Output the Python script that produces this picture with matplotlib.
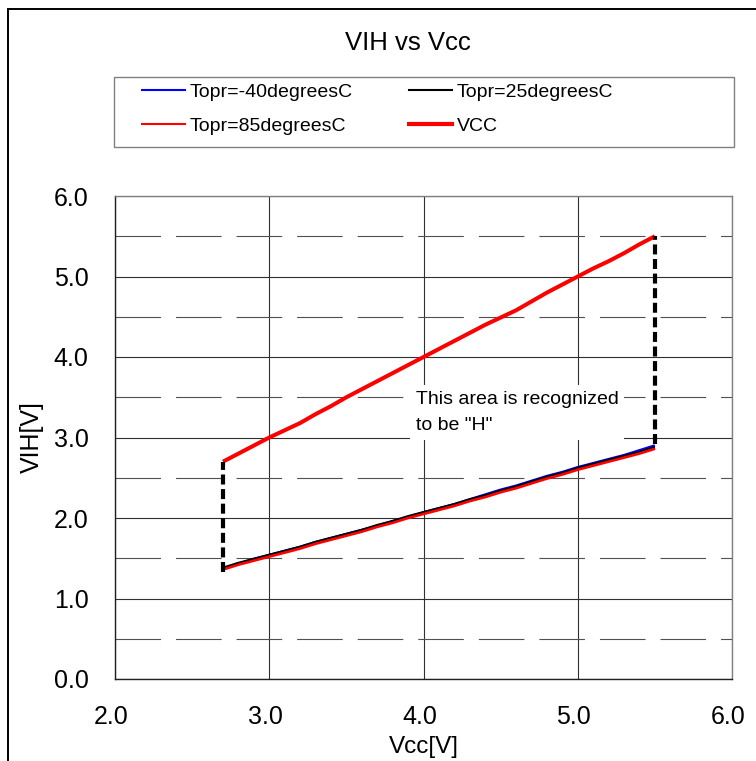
import matplotlib
matplotlib.use("Agg")
import matplotlib.pyplot as plt
from matplotlib.patches import Rectangle
from matplotlib.lines import Line2D
from matplotlib.transforms import ScaledTranslation

plt.rcParams['font.family'] = ['Liberation Sans', 'DejaVu Sans']

# ---- data ----
vcc = [2.7, 2.8, 2.9, 3.0, 3.1, 3.2, 3.3, 3.4, 3.5, 3.6, 3.7, 3.8, 3.9, 4.0,
       4.1, 4.2, 4.3, 4.4, 4.5, 4.6, 4.7, 4.8, 4.9, 5.0, 5.1, 5.2, 5.3, 5.4, 5.5]
vih_m40 = [1.37, 1.43, 1.49, 1.54, 1.59, 1.64, 1.70, 1.75, 1.80, 1.85, 1.90, 1.96, 2.01, 2.07,
           2.12, 2.17, 2.23, 2.29, 2.35, 2.40, 2.46, 2.52, 2.57, 2.63, 2.68, 2.73, 2.78, 2.84, 2.90]
vih_25 = [1.38, 1.44, 1.49, 1.54, 1.59, 1.64, 1.70, 1.75, 1.80, 1.85, 1.91, 1.96, 2.02, 2.07,
          2.12, 2.17, 2.23, 2.28, 2.34, 2.39, 2.45, 2.51, 2.56, 2.62, 2.67, 2.72, 2.77, 2.82, 2.88]
vih_85 = [1.36, 1.42, 1.47, 1.52, 1.57, 1.62, 1.68, 1.73, 1.78, 1.83, 1.89, 1.94, 2.00, 2.05,
          2.10, 2.15, 2.21, 2.26, 2.32, 2.37, 2.43, 2.49, 2.54, 2.60, 2.65, 2.70, 2.75, 2.80, 2.86]
vcc_line = [2.70, 2.80, 2.90, 3.00, 3.09, 3.18, 3.29, 3.39, 3.50, 3.60, 3.70, 3.80, 3.90, 4.00,
            4.10, 4.20, 4.30, 4.40, 4.49, 4.58, 4.69, 4.80, 4.90, 5.00, 5.10, 5.19, 5.29, 5.40, 5.50]
range_x = [2.7, 5.5]
range_low = [1.33, 2.92]
range_high = [2.70, 5.50]

series_labels = ["Topr=-40degreesC", "Topr=25degreesC", "Topr=85degreesC", "VCC"]
xticks = [2.0, 3.0, 4.0, 5.0, 6.0]
yticks = [0.0, 1.0, 2.0, 3.0, 4.0, 5.0, 6.0]
yticks_minor = [0.5, 1.5, 2.5, 3.5, 4.5, 5.5]

W, H = 756, 761
fig = plt.figure(figsize=(W / 100, H / 100), dpi=100)
fig.patch.set_facecolor('white')

# figure frame (cropped at right and bottom)
fig.patches.append(Rectangle((8 / W, -0.1), 1.2, (1 - 9 / H) + 0.1, transform=fig.transFigure,
                             fill=False, edgecolor='black', linewidth=1.4))
# legend frame
fig.patches.append(Rectangle((114 / W, 1 - 147 / H), (734 - 114) / W, (147 - 77) / H,
                             transform=fig.transFigure, fill=False, edgecolor='#808080',
                             linewidth=1.0))

ax = fig.add_axes([115 / W, 1 - 679 / H, (732 - 115) / W, (679 - 196) / H])
ax.set_xlim(2.0, 6.0)
ax.set_ylim(0.0, 6.0)
ax.set_xticks(xticks)
ax.set_yticks(yticks)
ax.set_yticks(yticks_minor, minor=True)
ax.set_xticklabels([f"{v:.1f}" for v in xticks])
ax.set_yticklabels([f"{v:.1f}" for v in yticks])
ax.tick_params(axis='both', which='both', length=0, labelsize=18, labelcolor='black')
ax.tick_params(axis='x', pad=19)
ax.tick_params(axis='y', pad=19)
shift = ScaledTranslation(-4 / 100, 0, fig.dpi_scale_trans)
for lab in ax.get_xticklabels():
    lab.set_transform(lab.get_transform() + shift)

ax.set_axisbelow(True)
ax.xaxis.grid(True, which='major', color='#303030', linewidth=0.8)
ax.yaxis.grid(True, which='major', color='#303030', linewidth=0.8)
ax.yaxis.grid(True, which='minor', color='#505050', linewidth=0.8, linestyle=(0, (41, 13.5)))

for s in ['left', 'bottom']:
    ax.spines[s].set_color('#202020')
    ax.spines[s].set_linewidth(1.0)
for s in ['top', 'right']:
    ax.spines[s].set_color('#808080')
    ax.spines[s].set_linewidth(1.0)

ax.plot(vcc, vih_m40, color='#0000ff', linewidth=1.9, solid_capstyle='butt', zorder=3)
ax.plot(vcc, vih_25, color='black', linewidth=1.9, solid_capstyle='butt', zorder=3)
ax.plot(vcc, vih_85, color='#ff0000', linewidth=1.9, solid_capstyle='butt', zorder=3)
ax.plot(vcc, vcc_line, color='#ff0000', linewidth=2.9, solid_capstyle='butt', zorder=3)

for x, lo, hi in zip(range_x, range_low, range_high):
    ax.plot([x, x], [lo, hi], color='black', linewidth=3.0, linestyle=(0, (2.4, 1.1)),
            solid_capstyle='butt', zorder=4)

ax.text(3.95, 3.31, 'This area is recognized\nto be "H"', fontsize=14, ha='left', va='center',
        linespacing=1.75, zorder=5,
        bbox=dict(facecolor='white', edgecolor='none', boxstyle='square,pad=0.3'))

ax.set_xlabel('Vcc[V]', fontsize=17.5, labelpad=5)
ax.set_ylabel('VIH[V]', fontsize=18, labelpad=7)

fig.text(408 / W, 1 - 43 / H, 'VIH vs Vcc', fontsize=18.5, ha='center', va='center')

# legend (row-wise order: -40, 25 / 85, VCC)
handles = [Line2D([], [], color='#0000ff', linewidth=1.5),
           Line2D([], [], color='#ff0000', linewidth=1.5),
           Line2D([], [], color='black', linewidth=1.5),
           Line2D([], [], color='#ff0000', linewidth=3.0)]
labels = [series_labels[0], series_labels[2], series_labels[1], series_labels[3]]
leg = fig.legend(handles, labels, loc='upper left',
                 bbox_to_anchor=(142 / W, 1 - 83 / H),
                 ncol=2, fontsize=14, frameon=False,
                 handlelength=2.2, handletextpad=0.25, borderpad=0.0, labelspacing=0.86,
                 borderaxespad=0, columnspacing=2.9)

fig.savefig('out.png', dpi=100, facecolor='white')
